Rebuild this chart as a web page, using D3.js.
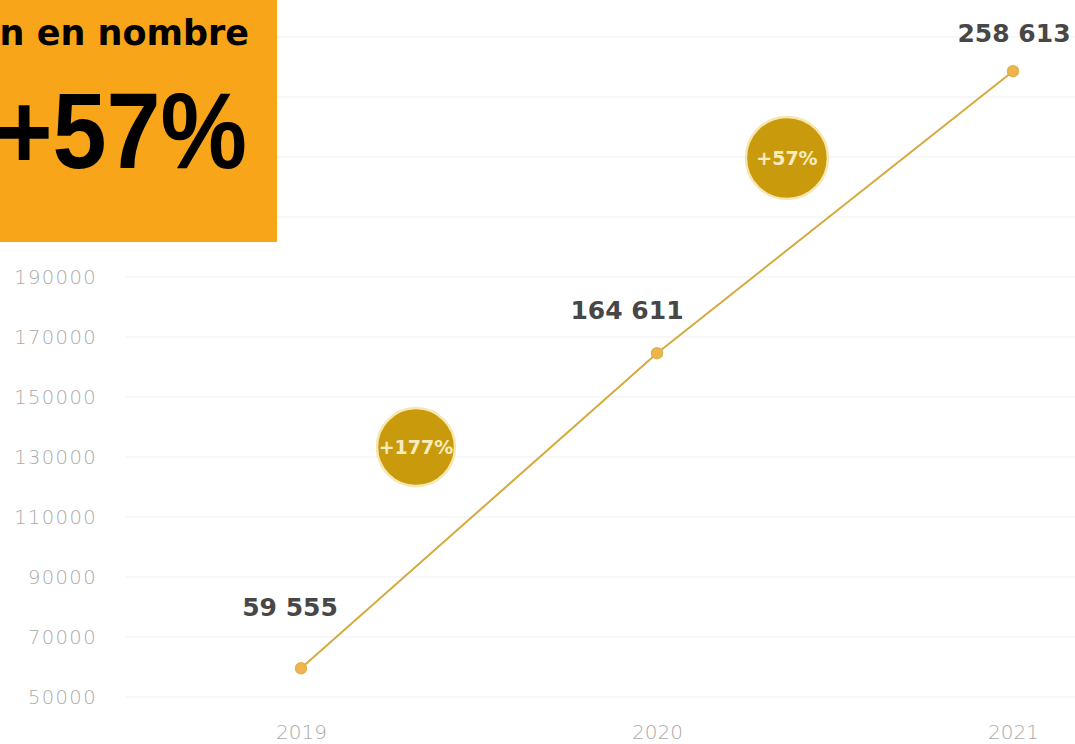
<!DOCTYPE html>
<html><head><meta charset="utf-8">
<script src="https://cdn.jsdelivr.net/npm/d3@7"></script>
<style>html,body{margin:0;padding:0;background:#fff;overflow:hidden}</style>
</head><body>
<svg id="c" width="1075" height="744"></svg>
<script>
const years = [2019, 2020, 2021];
const values = [59555, 164611, 258613];
const valueLabels = ["59 555", "164 611", "258 613"];
const gridTicks = [50000, 70000, 90000, 110000, 130000, 150000, 170000, 190000, 210000, 230000, 250000, 270000];
const yTickLabels = [50000, 70000, 90000, 110000, 130000, 150000, 170000, 190000];
const growthLabels = ["+177%", "+57%"];
const growthX = [2019.323, 2020.365];
const growthY = [133300, 229700];
const headerTitle = "n en nombre";
const headerValue = "+57%";

const svg = d3.select("#c");
const x = d3.scaleLinear().domain([2019, 2021]).range([301, 1013]);
const y = d3.scaleLinear().domain([50000, 270000]).range([697, 37]);

// gridlines
svg.append("g").selectAll("line").data(gridTicks).join("line")
  .attr("x1", 126).attr("x2", 1075)
  .attr("y1", d => y(d)).attr("y2", d => y(d))
  .attr("stroke", "#efefef").attr("stroke-width", 1.2);

// y axis
const yAxis = d3.axisLeft(y).tickValues(yTickLabels).tickSize(0).tickPadding(0).tickFormat(d3.format("d"));
const gy = svg.append("g").attr("transform", "translate(97,0)").call(yAxis);
gy.select(".domain").remove();
gy.selectAll("text").attr("font-family", "'DejaVu Sans', sans-serif").attr("font-weight", 200)
  .attr("font-size", 19.5).attr("letter-spacing", 1.4).attr("fill", "#aaaaaa").attr("dy", "0.35em");

// x axis
const xAxis = d3.axisBottom(x).tickValues(years).tickSize(0).tickPadding(0).tickFormat(d3.format("d"));
const gx = svg.append("g").attr("transform", "translate(0,725)").call(xAxis);
gx.select(".domain").remove();
gx.selectAll("text").attr("font-family", "'DejaVu Sans', sans-serif").attr("font-weight", 200)
  .attr("font-size", 20).attr("fill", "#aaaaaa").attr("dy", "0.71em");

// growth circles
const gc = svg.append("g").selectAll("g").data(growthLabels).join("g")
  .attr("transform", (d, i) => `translate(${x(growthX[i])},${y(growthY[i])})`);
gc.append("circle").attr("r", (d, i) => i === 0 ? 39 : 41)
  .attr("fill", "#c99a0b").attr("stroke", "#f6e6b0").attr("stroke-width", 2.5);
gc.append("text").text(d => d).attr("text-anchor", "middle").attr("dy", "0.36em")
  .attr("font-family", "'DejaVu Sans', sans-serif").attr("font-weight", "bold")
  .attr("font-size", 19).attr("fill", "#f7ecc0");

// line
const pts = years.map((yr, i) => [x(yr), y(values[i])]);
svg.append("path").attr("d", d3.line()(pts)).attr("fill", "none")
  .attr("stroke", "#d4ab3e").attr("stroke-width", 2);
svg.append("g").selectAll("circle").data(years).join("circle")
  .attr("cx", d => x(d)).attr("cy", (d, i) => y(values[i])).attr("r", 5.5)
  .attr("fill", "#efb44e").attr("stroke", "#ddb445").attr("stroke-width", 1.5);

// value labels
const labelDX = [-11, -30, 1];
const labelDY = [-52, -34, -29];
svg.append("g").selectAll("text").data(valueLabels).join("text")
  .text(d => d).attr("text-anchor", "middle")
  .attr("x", (d, i) => x(years[i]) + labelDX[i])
  .attr("y", (d, i) => y(values[i]) + labelDY[i])
  .attr("font-family", "'DejaVu Sans', sans-serif").attr("font-weight", "bold")
  .attr("font-size", 25).attr("fill", "#474747");

// header box
svg.append("rect").attr("x", 0).attr("y", 0).attr("width", 277).attr("height", 242).attr("fill", "#f9a51a");
svg.append("text").text(headerTitle).attr("x", 249).attr("y", 45).attr("text-anchor", "end")
  .attr("font-family", "'DejaVu Sans', sans-serif").attr("font-weight", "bold")
  .attr("font-size", 35).attr("fill", "#000");
svg.append("text").text(headerValue).attr("text-anchor", "end")
  .attr("transform", "translate(247,168) scale(0.9,1)")
  .attr("font-family", "'Liberation Sans', Arial, sans-serif").attr("font-weight", "bold")
  .attr("font-size", 108).attr("fill", "#000");
</script>
</body></html>
